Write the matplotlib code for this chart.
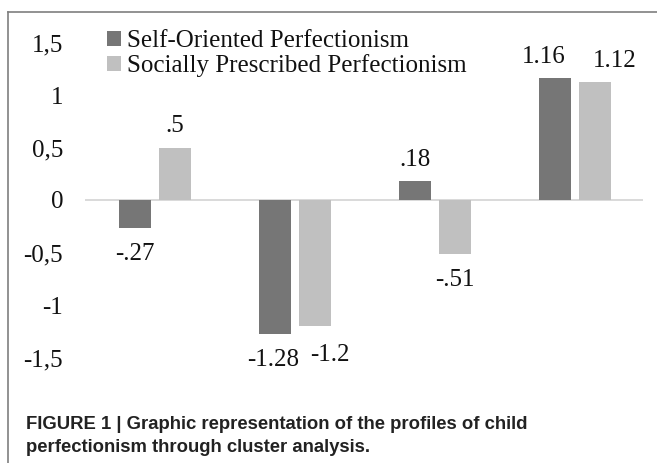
import matplotlib
matplotlib.use("Agg")
import matplotlib.pyplot as plt
from matplotlib.lines import Line2D
import numpy as np

clusters = ["Cluster 1", "Cluster 2", "Cluster 3", "Cluster 4"]
self_oriented = [-0.27, -1.28, 0.18, 1.16]
socially_prescribed = [0.5, -1.2, -0.51, 1.12]
self_labels = ["-.27", "-1.28", ".18", "1.16"]
social_labels = [".5", "-1.2", "-.51", "1.12"]
ytick_vals = [1.5, 1, 0.5, 0, -0.5, -1, -1.5]
ytick_labels = ["1,5", "1", "0,5", "0", "-0,5", "-1", "-1,5"]
series_names = ["Self-Oriented Perfectionism", "Socially Prescribed Perfectionism"]
caption = ("FIGURE 1 | Graphic representation of the profiles of child\n"
           "perfectionism through cluster analysis.")

W, H = 657, 463
PX = 72 / 100  # points per pixel at dpi 100
fig = plt.figure(figsize=(W / 100, H / 100), dpi=100)

ppu = 105.0
zero_y = 200.0
top_px = zero_y - 1.5 * ppu
bot_px = zero_y + 1.5 * ppu
ax = fig.add_axes([85 / W, (H - bot_px) / H, 558 / W, (bot_px - top_px) / H])
ax.set_xlim(-0.5, 3.486)
ax.set_ylim(-1.5, 1.5)

dark = "#767676"
light = "#c0c0c0"
x = np.arange(len(clusters))
bw = 32 / 140
off = 20 / 140
b1 = ax.bar(x - off, self_oriented, bw, color=dark, label=series_names[0], zorder=2)
b2 = ax.bar(x + off, socially_prescribed, bw, color=light, label=series_names[1], zorder=2)
ax.axhline(0, color="#d9d9d9", lw=1.4, zorder=1)

serif = ["Liberation Serif", "DejaVu Serif"]
fs = 18
nudge = {"-1.28": (-2, 0), "-1.2": (15, 3), "1.16": (-11, 0), "1.12": (20, 0)}
for i in range(len(clusters)):
    for xs, vals, labs in ((x - off, self_oriented, self_labels),
                           (x + off, socially_prescribed, social_labels)):
        v = vals[i]
        lab = labs[i]
        dy = 21 if v >= 0 else -26
        ndx, ndy = nudge.get(lab, (0, 0))
        ax.annotate(lab, (xs[i], v), xytext=(ndx * PX, (dy - ndy) * PX),
                    textcoords="offset points", ha="center", va="center",
                    fontsize=fs, family=serif, color="#111111")

ax.set_yticks(ytick_vals)
ax.set_yticklabels(ytick_labels, family=serif, fontsize=fs, color="#111111")
ax.set_xticks([])
ax.tick_params(axis="y", length=0, pad=22 * PX)
for s in ax.spines.values():
    s.set_visible(False)

leg = fig.legend(handles=[b1, b2], loc="upper left",
                 bbox_to_anchor=(107 / W, 1 - 30 / H), frameon=False,
                 prop={"family": serif, "size": fs}, handlelength=0.55, handleheight=0.55,
                 handletextpad=0.25, labelspacing=0.1, borderaxespad=0, borderpad=0)
for t in leg.get_texts():
    t.set_color("#111111")

fig.add_artist(Line2D([8 / W, 1], [1 - 12 / H, 1 - 12 / H], color="#7f7f7f", lw=1.2,
                      transform=fig.transFigure))
fig.add_artist(Line2D([8 / W, 8 / W], [0, 1 - 12 / H], color="#7f7f7f", lw=1.2,
                      transform=fig.transFigure))

fig.text(26 / W, 1 - 416 / H, caption, ha="left", va="top", fontsize=13.3,
         fontweight="bold", family=["Liberation Sans", "DejaVu Sans"], color="#222222",
         linespacing=1.45)

fig.savefig("out.png", dpi=100)
